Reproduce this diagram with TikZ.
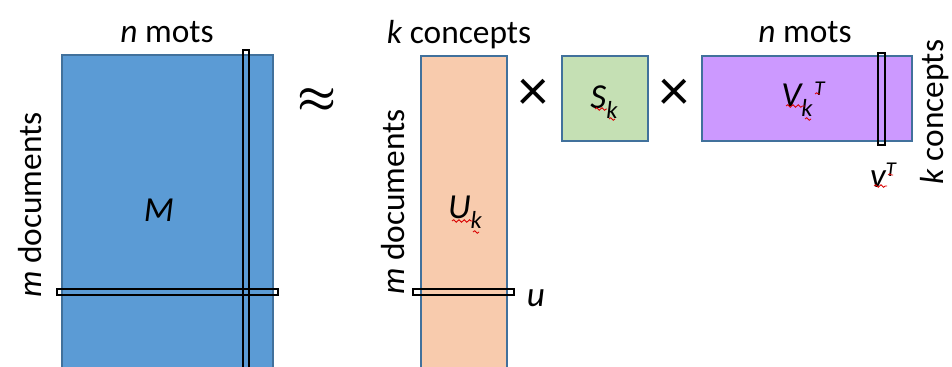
\documentclass[tikz,border=0pt]{standalone}
\usepackage{fontspec}
\usepackage{bm}
\setmainfont{Carlito}
\usetikzlibrary{decorations.pathmorphing}
\definecolor{mblue}{HTML}{5B9BD5}
\definecolor{upeach}{HTML}{F8CBAD}
\definecolor{sgreen}{HTML}{C5E0B4}
\definecolor{vpurple}{HTML}{CC99FF}
\definecolor{matline}{HTML}{41719C}
\newcommand{\matsub}[1]{\raisebox{-5.5pt}{\fontsize{14}{14}\selectfont\itshape #1}}
\newcommand{\matsup}[1]{\raisebox{6.5pt}{\fontsize{12}{12}\selectfont\itshape #1}}
\tikzset{
  matbox/.style={
    draw=matline,
    line width=1pt
  },
  slice/.style={
    draw=black,
    line width=0.8pt
  },
  dimlabel/.style={
    font=\fontsize{19}{22}\selectfont,
    inner sep=0pt
  },
  matlabel/.style={
    font=\fontsize{20}{24}\selectfont\itshape,
    inner sep=0pt
  },
  oplabel/.style={
    font=\fontsize{34}{36}\selectfont,
    inner sep=0pt
  },
  spellmark/.style={
    draw=red!85!black,
    line width=0.5pt,
    decorate,
    decoration={snake, amplitude=0.7pt, segment length=3pt}
  }
}

\begin{document}
\begin{tikzpicture}[x=0.02cm, y=-0.02cm]
    \useasboundingbox (0,0) rectangle (952,367);

    % M
    \draw[matbox, fill=mblue] (62,55) rectangle (273,368);
    \draw[slice] (243,50) rectangle (249,368);
    \draw[slice] (57,289) rectangle (278,295);
    \node[matlabel] (mlab) at (159,210) {M};
    \node[dimlabel] (ncols) at (167,32) {\textit{n} mots};
    \node[dimlabel, rotate=90] (mrows) at (30,205) {\textit{m} documents};

    \node[font=\fontsize{26}{28}\selectfont, inner sep=0pt] (approx) at (317,101) {$\bm{\approx}$};

    % U_k
    \draw[matbox, fill=upeach] (421,56) rectangle (507,368);
    \draw[slice] (413,289) rectangle (514,295);
    \node[matlabel] (ulab) at (465,212) {U\matsub{k}};
    \node[dimlabel] (kcols) at (459,35) {\textit{k} concepts};
    \node[dimlabel, rotate=90] (urows) at (393,202) {\textit{m} documents};
    \node[matlabel] (ulabel) at (536,298) {u};

    \node[oplabel] (times1) at (533,95) {×};

    % S_k
    \draw[matbox, fill=sgreen] (562,56) rectangle (648,141);
    \node[matlabel] (slab) at (604,102) {S\matsub{k}};

    \node[oplabel] (times2) at (674,95) {×};

    % V_k^T
    \draw[matbox, fill=vpurple] (702,56) rectangle (912,141);
    \draw[slice] (878,53) rectangle (885,145);
    \node[matlabel] (vlab) at (803,99) {V\matsub{k}\kern0.05em\matsup{T}};
    \node[dimlabel] (vcols) at (805,32) {\textit{n} mots};
    \node[dimlabel, rotate=90] (vrows) at (935,112) {\textit{k} concepts};
    \node[matlabel] (vtlabel) at (883,175) {v\matsup{T}};

    % spell-check marks
    \draw[spellmark] (595,109) -- (607,109);
    \draw[spellmark] (609,119) -- (615,119);
    \draw[spellmark] (452,221) -- (473,221);
    \draw[spellmark] (473,232) -- (479,232);
    \draw[spellmark] (786,106) -- (805,106);
    \draw[spellmark] (805,119) -- (811,119);
    \draw[spellmark] (815,94) -- (820,94);
    \draw[spellmark] (874,186) -- (887,186);
    \draw[spellmark] (888,175) -- (893,175);
\end{tikzpicture}
\end{document}
